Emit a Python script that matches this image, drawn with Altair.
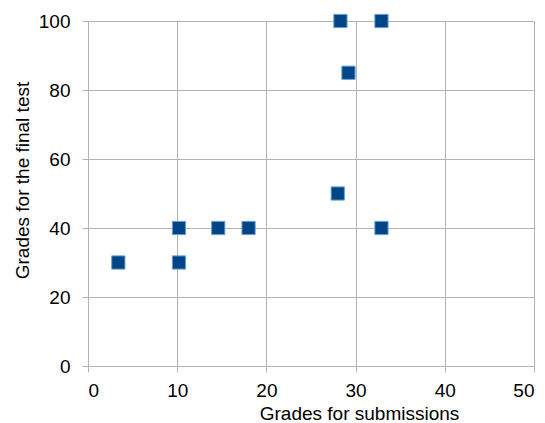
import altair as alt
import pandas as pd

submissions = [3.4, 10.2, 10.2, 14.6, 18.0, 28.0, 28.3, 29.2, 32.9, 32.9]
final_test = [30, 40, 30, 40, 40, 50, 100, 85, 100, 40]

df = pd.DataFrame({"sub": submissions, "final": final_test})

FONT = "Liberation Sans"

chart = alt.Chart(df).mark_square(
    size=175, color="#004586", opacity=1, stroke="#6a9fd6", strokeWidth=1
).encode(
    x=alt.X("sub:Q", scale=alt.Scale(domain=[0, 50], nice=False),
            axis=alt.Axis(values=[0, 10, 20, 30, 40, 50], title="Grades for submissions",
                          labelPadding=9,
                          titleX=271, titleY=53, titleBaseline="alphabetic", titleAnchor=None)),
    y=alt.Y("final:Q", scale=alt.Scale(domain=[0, 100], nice=False),
            axis=alt.Axis(values=[0, 20, 40, 60, 80, 100], title="Grades for the final test",
                          labelPadding=12,
                          titleX=-60, titleY=159, titleBaseline="alphabetic", titleAnchor=None)),
).properties(
    width=446, height=345,
    background="white",
    autosize=alt.AutoSizeParams(type="none"),
    padding={"left": 80, "top": 13, "right": 3, "bottom": 57},
).configure_view(stroke=None).configure_axis(
    gridColor="#b3b3b3", gridWidth=1, domainColor="#b3b3b3", tickColor="#b3b3b3",
    tickSize=6, labelFont=FONT, titleFont=FONT, labelFontSize=19, titleFontSize=19,
    labelColor="#000000", titleColor="#000000", titleFontWeight="normal",
)

chart.save("out.html", embed_options={"renderer": "svg", "actions": False})
